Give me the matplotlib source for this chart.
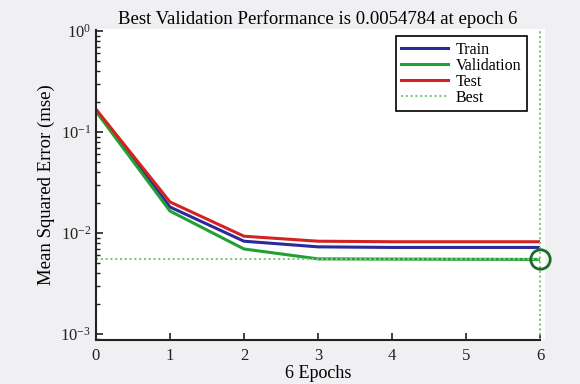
import matplotlib
matplotlib.use("Agg")
import matplotlib.pyplot as plt

plt.rcParams['font.family'] = ['Liberation Serif', 'DejaVu Serif']
plt.rcParams['mathtext.fontset'] = 'custom'
plt.rcParams['mathtext.rm'] = 'Liberation Serif'
plt.rcParams['mathtext.it'] = 'Liberation Serif:italic'

epochs = [0, 1, 2, 3, 4, 5, 6]
train = [0.165, 0.0181, 0.0083, 0.0073, 0.0072, 0.0072, 0.0072]
validation = [0.160, 0.0165, 0.00695, 0.00555, 0.00552, 0.0055, 0.0054784]
test = [0.168, 0.0203, 0.0093, 0.0083, 0.0082, 0.0082, 0.0082]
best_epoch = 6
best_value = 0.0054784
xticks = [0, 1, 2, 3, 4, 5, 6]

fig = plt.figure(figsize=(5.8, 3.84), dpi=100, facecolor='#f0f0f2')
# white plot area slightly wider than axes, as in reference
fig.patches.append(plt.Rectangle((96/580, 1-339.5/384), (545-96)/580, (339.5-29)/384,
                                 transform=fig.transFigure, facecolor='white', edgecolor='none', zorder=-5))
ax = fig.add_axes([96/580, 1-339.5/384, (540-96)/580, (339.5-30)/384])
ax.set_facecolor('white')

best_color = '#7fc881'
ax.plot(epochs, train, color='#2a2a9c', lw=2.2, label='Train')
ax.plot(epochs, validation, color='#22a034', lw=2.2, label='Validation')
ax.plot(epochs, test, color='#d42222', lw=2.2, label='Test')
ax.plot([0, best_epoch], [best_value, best_value], color=best_color, lw=1.5, ls=(0, (1, 1.3)), label='Best')
ax.axvline(best_epoch, color=best_color, lw=1.5, ls=(0, (1, 1.3)), clip_on=False)
ax.plot([best_epoch], [best_value], marker='o', ms=14, mfc='none', mec='#1d6b2a', mew=2, clip_on=False)

ax.set_yscale('log')
ax.set_xlim(0, 6)
ax.set_ylim(10**-3.054, 10**0.01)
ax.set_xticks(xticks)
ax.set_yticks([1e-3, 1e-2, 1e-1, 1e0])

for s in ['top', 'right']:
    ax.spines[s].set_visible(False)
for s in ['left', 'bottom']:
    ax.spines[s].set_color('#222222')
    ax.spines[s].set_linewidth(1.5)

ax.tick_params(axis='both', which='major', direction='in', length=5, width=1.2, labelsize=12, colors='#222222')
ax.tick_params(axis='y', which='minor', direction='in', length=3, width=1.0, colors='#222222')
ax.tick_params(axis='x', which='major', pad=6)

ax.set_title('Best Validation Performance is 0.0054784 at epoch 6', fontsize=13.5, pad=4)
ax.set_xlabel('6 Epochs', fontsize=13, labelpad=1)
ax.set_ylabel('Mean Squared Error (mse)', fontsize=13.5, labelpad=4)

leg = ax.legend(loc='upper right', bbox_to_anchor=(527/580, 1-36/384), bbox_transform=fig.transFigure,
                fontsize=11.5, frameon=True, fancybox=False, edgecolor='black', framealpha=1,
                handlelength=2.9, labelspacing=0.0, borderpad=0.35, handletextpad=0.5, borderaxespad=0)
leg.get_frame().set_linewidth(1.2)

fig.savefig('out.png', dpi=100, facecolor=fig.get_facecolor())
